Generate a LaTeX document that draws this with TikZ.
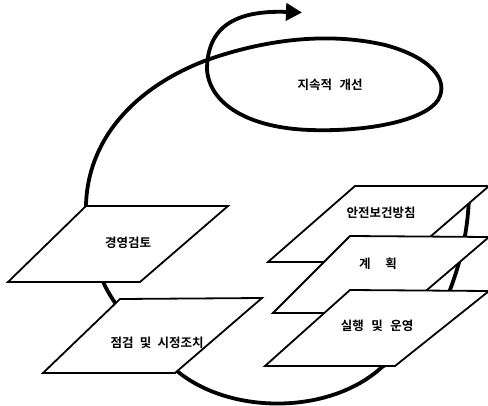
\documentclass[tikz,border=0pt]{standalone}
\usepackage{fontspec}
\setmainfont{Noto Sans CJK KR}[BoldFont={Noto Sans CJK KR Bold}]
\usetikzlibrary{arrows.meta}
\begin{document}
\begin{tikzpicture}[x=1pt,y=-1pt,
  cyc/.style={line width=3.8pt,line cap=round,line join=round},
  para/.style={draw=black,fill=white,line width=1.8pt,line join=miter},
  lbl/.style={font=\fontsize{12.5}{14}\selectfont\bfseries,inner sep=0pt}]
\useasboundingbox (0,0) rectangle (488,405);
% cycle curve (behind boxes)
\coordinate (s0) at (469,196);
\coordinate (s1) at (448,295);
\coordinate (s2) at (382,367);
\coordinate (s3) at (177,371);
\coordinate (s4) at (110,295);
\coordinate (s5) at (86,205);
\coordinate (x0) at (207,60);
\coordinate (e1) at (385,45);
\coordinate (e2) at (438,100);
\coordinate (e3) at (310,130);
\coordinate (e4) at (207,70);
\coordinate (tip) at (302,12.5);
\draw[cyc] (s0) .. controls (468,232) and (460,265) .. (s1)
  .. controls (435,325) and (410,350) .. (s2)
  .. controls (330,415) and (230,415) .. (s3)
  .. controls (150,345) and (125,320) .. (s4)
  .. controls (98,275) and (88,245) .. (s5)
  .. controls (88,135) and (140,85) .. (x0)
  .. controls (255,43) and (320,30) .. (e1)
  .. controls (430,57) and (450,80) .. (e2)
  .. controls (425,120) and (370,132) .. (e3)
  .. controls (250,128) and (210,105) .. (e4);
\draw[cyc,-{Triangle[length=16pt,width=17pt]}] (e4) .. controls (207,27) and (235,10) .. (tip);
% boxes
\draw[para] (8,282) -- (140,282) -- (228,206) -- (86,206) -- cycle;
\draw[para] (43,373) -- (175,373) -- (262,298) -- (120,299) -- cycle;
\draw[para] (268,262) -- (401,262) -- (489,186) -- (355,186) -- cycle;
\draw[para] (273,313) -- (400,313) -- (489,237) -- (350,236) -- cycle;
\draw[para] (265,366) -- (395,366) -- (489,291) -- (350,290) -- cycle;
% labels
\node[lbl] (kaizen) at (330,85) {지속적\hspace{0.6em}개선};
\node[lbl] (review) at (128,243) {경영검토};
\node[lbl] (check) at (157,343) {점검\hspace{0.5em}및\hspace{0.5em}시정조치};
\node[lbl] (policy) at (381,213) {안전보건방침};
\node[lbl] (plan) at (378,264) {계\hspace{1.2em}획};
\node[lbl] (do) at (377,326) {실행\hspace{0.6em}및\hspace{0.6em}운영};
\end{tikzpicture}
\end{document}
